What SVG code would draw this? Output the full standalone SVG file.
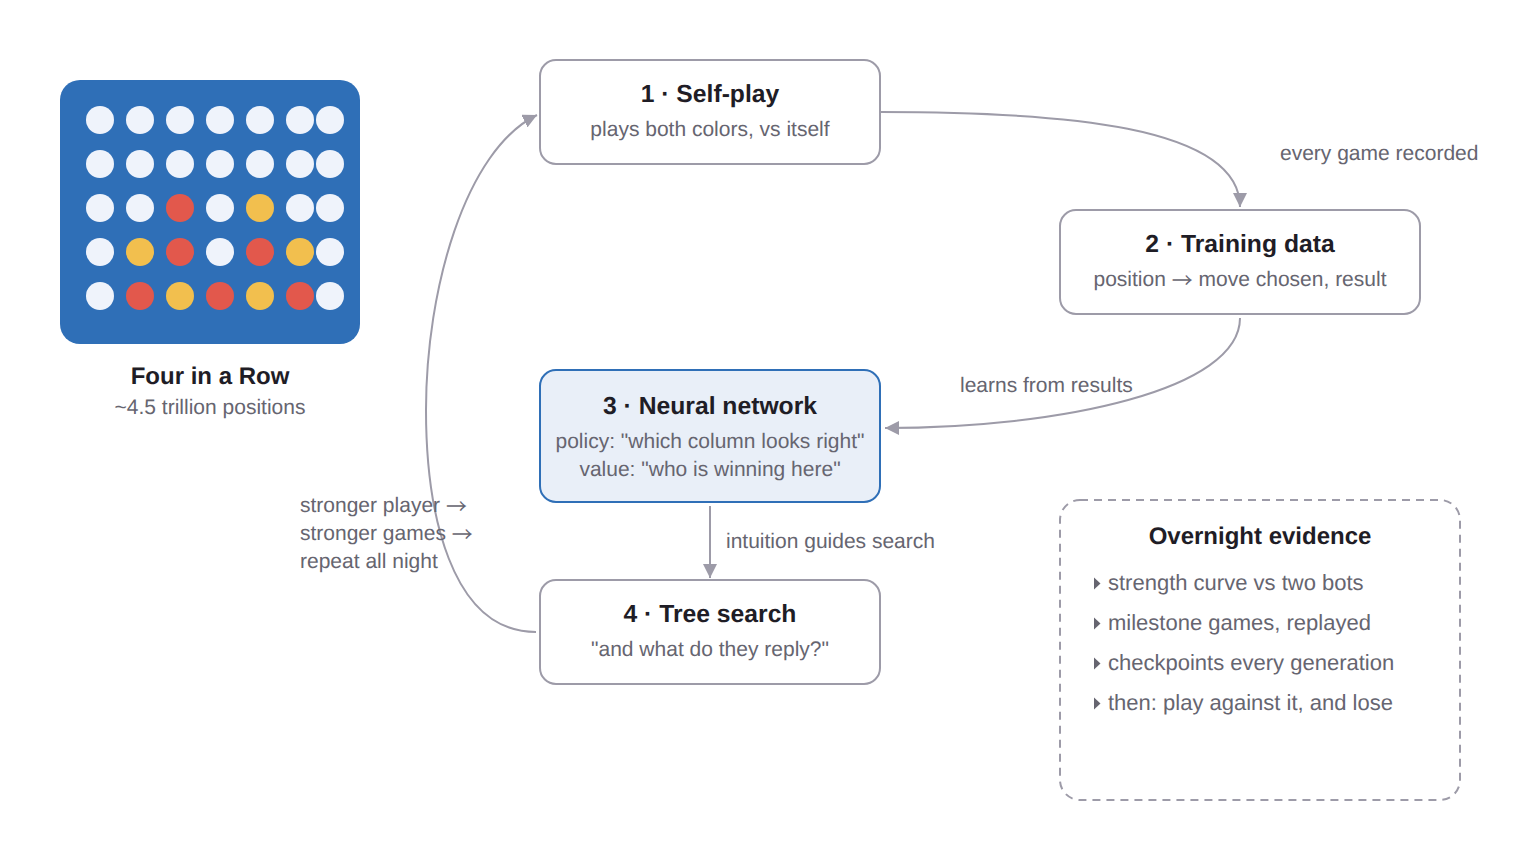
<svg xmlns="http://www.w3.org/2000/svg" width="1520" height="860" viewBox="0 0 1520 860">
  <style>
    text { font-family: "Liberation Sans", Arial, sans-serif; text-rendering: geometricPrecision; }
    .title { font-size: 24.7px; font-weight: 700; fill: #1f1d26; text-anchor: middle; }
    .head { font-size: 24px; font-weight: 700; fill: #1f1d26; text-anchor: middle; }
    .body { font-size: 21px; fill: #666570; text-anchor: middle; }
    .label { font-size: 21px; fill: #666570; }
    .item { font-size: 22px; fill: #666570; }
    .sym { font-family: "Noto Sans CJK JP", sans-serif; }
    .box { fill: #ffffff; stroke: #9d9ba8; stroke-width: 2; }
    .box-hi { fill: #e9eff8; stroke: #2f6fb7; stroke-width: 2; }
    .link { fill: none; stroke: #9d9ba8; stroke-width: 2; }
    .empty { fill: #eff3fb; }
    .red { fill: #e2584c; }
    .yellow { fill: #f2bf4e; }
    .tick { fill: #666570; }
  </style>
  <defs>
    <marker id="arrow" markerUnits="userSpaceOnUse" markerWidth="14" markerHeight="14" refX="14" refY="7" orient="auto">
      <path d="M0,0 L14,7 L0,14 Z" fill="#9d9ba8"/>
    </marker>
  </defs>

  <g id="board">
    <rect x="60" y="80" width="300" height="264" rx="20" fill="#2f6fb7"/>
    <g class="empty">
      <circle cx="100" cy="120" r="14"/><circle cx="140" cy="120" r="14"/><circle cx="180" cy="120" r="14"/><circle cx="220" cy="120" r="14"/><circle cx="260" cy="120" r="14"/><circle cx="300" cy="120" r="14"/><circle cx="330" cy="120" r="14"/>
      <circle cx="100" cy="164" r="14"/><circle cx="140" cy="164" r="14"/><circle cx="180" cy="164" r="14"/><circle cx="220" cy="164" r="14"/><circle cx="260" cy="164" r="14"/><circle cx="300" cy="164" r="14"/><circle cx="330" cy="164" r="14"/>
      <circle cx="100" cy="208" r="14"/><circle cx="140" cy="208" r="14"/><circle cx="220" cy="208" r="14"/><circle cx="300" cy="208" r="14"/><circle cx="330" cy="208" r="14"/>
      <circle cx="100" cy="252" r="14"/><circle cx="220" cy="252" r="14"/><circle cx="330" cy="252" r="14"/>
      <circle cx="100" cy="296" r="14"/><circle cx="330" cy="296" r="14"/>
    </g>
    <g class="red">
      <circle cx="180" cy="208" r="14"/><circle cx="180" cy="252" r="14"/><circle cx="260" cy="252" r="14"/>
      <circle cx="140" cy="296" r="14"/><circle cx="220" cy="296" r="14"/><circle cx="300" cy="296" r="14"/>
    </g>
    <g class="yellow">
      <circle cx="260" cy="208" r="14"/><circle cx="140" cy="252" r="14"/><circle cx="300" cy="252" r="14"/>
      <circle cx="180" cy="296" r="14"/><circle cx="260" cy="296" r="14"/>
    </g>
    <text class="head" x="210" y="384">Four in a Row</text>
    <text class="body" x="210" y="414">~4.5 trillion positions</text>
  </g>

  <g id="connectors">
    <path class="link" d="M881,112 C1060,112 1240,125 1240,207" marker-end="url(#arrow)"/>
    <path class="link" d="M1240,318 C1240,390 1060,428 885,428" marker-end="url(#arrow)"/>
    <path class="link" d="M710,506 L710,578" marker-end="url(#arrow)"/>
    <path class="link" d="M536,632 C450,632 426,510 426,410 C426,290 465,150 537,115" marker-end="url(#arrow)"/>
    <text class="label" x="1280" y="160">every game recorded</text>
    <text class="label" x="960" y="392">learns from results</text>
    <text class="label" x="726" y="548">intuition guides search</text>
    <text class="label" x="300" y="512">stronger player <tspan class="sym" dy="1.5">→</tspan></text>
    <text class="label" x="300" y="540">stronger games <tspan class="sym" dy="1.5">→</tspan></text>
    <text class="label" x="300" y="568">repeat all night</text>
  </g>

  <g id="self-play">
    <rect class="box" x="540" y="60" width="340" height="104" rx="16"/>
    <text class="title" x="710" y="102">1 · Self-play</text>
    <text class="body" x="710" y="136">plays both colors, vs itself</text>
  </g>
  <g id="training-data">
    <rect class="box" x="1060" y="210" width="360" height="104" rx="16"/>
    <text class="title" x="1240" y="252">2 · Training data</text>
    <text class="body" x="1240" y="286">position <tspan class="sym" dy="1.5">→</tspan><tspan dy="-1.5"> move chosen, result</tspan></text>
  </g>
  <g id="neural-network">
    <rect class="box-hi" x="540" y="370" width="340" height="132" rx="16"/>
    <text class="title" x="710" y="414">3 · Neural network</text>
    <text class="body" x="710" y="448">policy: "which column looks right"</text>
    <text class="body" x="710" y="476">value: "who is winning here"</text>
  </g>
  <g id="tree-search">
    <rect class="box" x="540" y="580" width="340" height="104" rx="16"/>
    <text class="title" x="710" y="622">4 · Tree search</text>
    <text class="body" x="710" y="656">"and what do they reply?"</text>
  </g>
  <g id="evidence">
    <rect x="1060" y="500" width="400" height="300" rx="20" fill="none" stroke="#9d9ba8" stroke-width="2" stroke-dasharray="8 6"/>
    <text class="head" x="1260" y="544">Overnight evidence</text>
    <path class="tick" d="M1094,577.5 L1100.5,583.5 L1094,589.5 Z"/>
    <text class="item" x="1108" y="590">strength curve vs two bots</text>
    <path class="tick" d="M1094,617.5 L1100.5,623.5 L1094,629.5 Z"/>
    <text class="item" x="1108" y="630">milestone games, replayed</text>
    <path class="tick" d="M1094,657.5 L1100.5,663.5 L1094,669.5 Z"/>
    <text class="item" x="1108" y="670">checkpoints every generation</text>
    <path class="tick" d="M1094,697.5 L1100.5,703.5 L1094,709.5 Z"/>
    <text class="item" x="1108" y="710">then: play against it, and lose</text>
  </g>
</svg>
